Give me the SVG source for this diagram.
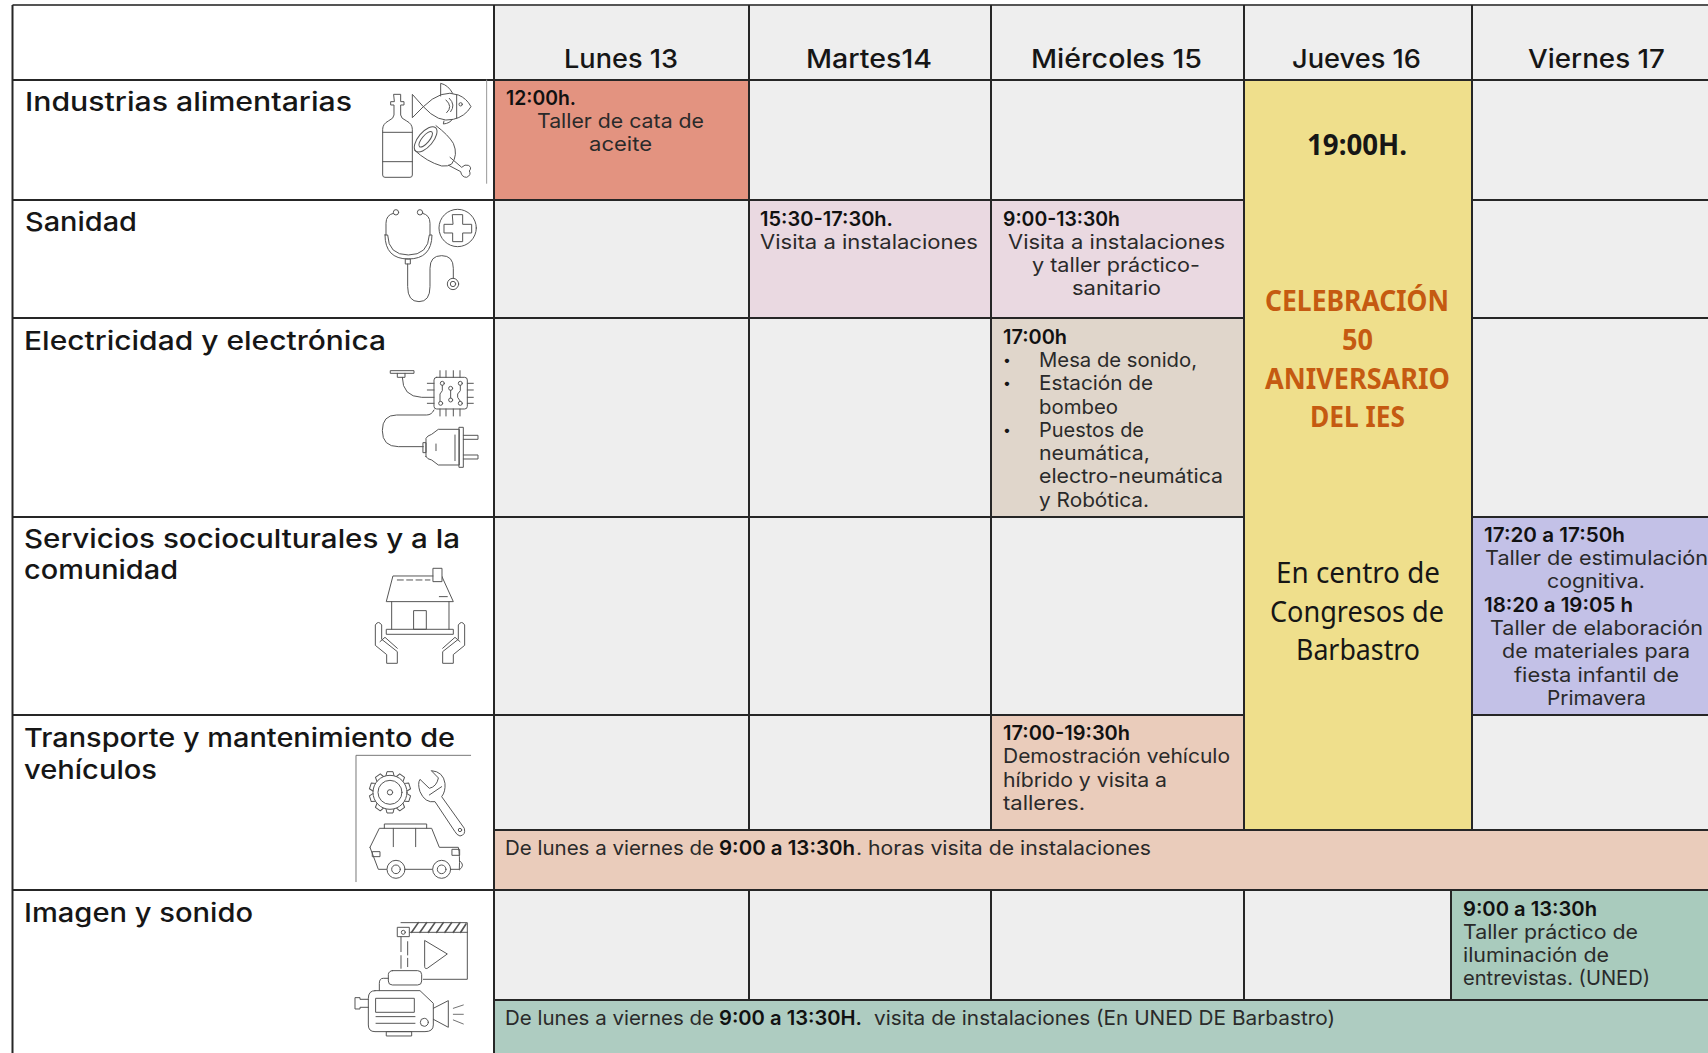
<svg xmlns="http://www.w3.org/2000/svg" xmlns:xlink="http://www.w3.org/1999/xlink" width="1708" height="1053" viewBox="0 0 1708 1053">
<style>
text{font-family:Inter,"Liberation Sans",sans-serif;fill:#161616;transform:translateY(.5px)}
.h{font-size:26px;font-weight:500}
.l{font-size:26px;font-weight:500}
.b{font-size:20px;font-weight:600;fill:#111}
.t{font-size:20px;font-weight:400;fill:#2a2a2a}
.bu{font-size:14px;font-weight:400}
.c{font-family:"Noto Sans","Open Sans",sans-serif;font-size:29px}
.cb{font-family:"Noto Sans","Open Sans",sans-serif;font-size:29px;font-weight:700}
.o{fill:#c55a11}
.ln{stroke:#262626;stroke-width:2;fill:none}
.ic{fill:none;stroke:#555;stroke-width:3;stroke-linejoin:round;stroke-linecap:round}
.wf{fill:#fff}
.g{fill:#eeeeee}
</style>
<defs>
<path id="tooth" d="M138 107L141 95H159L162 107"/>
</defs>
<rect width="1708" height="1053" fill="#fff"/>
<g id="cells">
<rect class="g" x="494" y="5" width="1214" height="1048"/>
<rect x="494" y="80" width="255" height="120" fill="#e39380"/>
<rect x="749" y="200" width="242" height="118" fill="#ead9e1"/>
<rect x="991" y="200" width="253" height="118" fill="#ead9e1"/>
<rect x="991" y="318" width="253" height="199" fill="#e0d6cb"/>
<rect x="1244" y="80" width="228" height="750" fill="#efdf8c"/>
<rect x="1472" y="517" width="236" height="198" fill="#c3c1e7"/>
<rect x="991" y="715" width="253" height="115" fill="#eaccbb"/>
<rect x="494" y="830" width="1214" height="60" fill="#eaccbb"/>
<rect x="1451" y="890" width="257" height="110" fill="#a9cbbd"/>
<rect x="494" y="1000" width="1214" height="53" fill="#aeccc1"/>
</g>
<g id="grid" class="ln">
<path d="M12.5 5H1708" stroke="#555"/>
<path d="M12.5 80H1708M12.5 200H1244M1472 200H1708M12.5 318H1244M1472 318H1708M12.5 517H1244M1472 517H1708M12.5 715H1244M1472 715H1708M494 830H1708M12.5 890H1708M494 1000H1708"/>
<path d="M12.5 5V1053M494 5V1053M749 5V830M749 890V1000M991 5V830M991 890V1000M1244 5V830M1244 890V1000M1472 5V830M1451 890V1000"/>
</g>
<g id="headers">
<text class="h" x="564" y="67" textLength="114" lengthAdjust="spacingAndGlyphs">Lunes 13</text>
<text class="h" x="806" y="67" textLength="126" lengthAdjust="spacingAndGlyphs">Martes14</text>
<text class="h" x="1031" y="67" textLength="171" lengthAdjust="spacingAndGlyphs">Miércoles 15</text>
<text class="h" x="1292" y="67" textLength="129" lengthAdjust="spacingAndGlyphs">Jueves 16</text>
<text class="h" x="1528" y="67" textLength="137" lengthAdjust="spacingAndGlyphs">Viernes 17</text>
</g>
<g id="row-alimentarias">
<text class="l" x="25" y="110" textLength="327" lengthAdjust="spacingAndGlyphs">Industrias alimentarias</text>
<g transform="translate(370 60) scale(.3333)" class="ic">
<path d="M72 103H92V125H102V135H92V165Q92 175 110 183Q127 192 127 208V345Q127 352 120 352H45Q38 352 38 345V208Q38 192 55 183Q72 175 72 165V135H62V125H72Z"/>
<path d="M38 217H127M38 305H127"/>
<path d="M160 140Q215 85 265 105Q290 115 303 140Q285 170 250 178Q205 190 160 140L127 103V172Z"/>
<path d="M212 108V70Q235 75 248 100M222 183L220 192Q240 190 247 178M260 105V175M228 120Q250 140 230 158M238 115Q258 135 242 155"/>
<circle cx="272" cy="133" r="5"/>
<ellipse cx="167" cy="238" rx="22" ry="46" transform="rotate(40 167 238)"/>
<ellipse cx="167" cy="238" rx="11" ry="29" transform="rotate(40 167 238)"/>
<path d="M198 197Q235 225 250 250Q265 285 245 312Q235 320 215 318Q170 305 133 270"/>
<path d="M240 292L275 322Q285 312 295 316Q307 322 298 333Q305 345 290 352Q275 352 272 335L236 316"/>
<path d="M350 60V370" stroke="#999"/>
</g>
</g>
<g id="row-sanidad">
<text class="l" x="25" y="230" textLength="112" lengthAdjust="spacingAndGlyphs">Sanidad</text>
<g transform="translate(370 60) scale(.3333)" class="ic">
<circle cx="78" cy="457" r="8"/><circle cx="150" cy="457" r="8"/>
<path d="M70 460Q48 465 48 490V525M158 460Q180 465 180 490V525"/>
<path d="M45 525H53Q55 585 115 585Q175 585 178 525H186Q185 597 115 597Q45 597 45 525Z"/>
<rect x="107" y="597" width="14" height="15"/>
<path d="M113 612V680Q113 725 147 725Q180 725 180 680V625Q180 587 215 587Q250 587 250 625V655"/>
<circle cx="249" cy="672" r="17"/><circle cx="249" cy="672" r="8"/>
<circle cx="263" cy="504" r="56"/>
<path d="M248 464H278V493H305V519H278V545H248V519H222V493H248Z"/>
</g>
</g>
<g id="row-electricidad">
<text class="l" x="24" y="349" textLength="362" lengthAdjust="spacingAndGlyphs">Electricidad y electrónica</text>
<g transform="translate(340 320) scale(.3333)" class="ic">
<rect x="152" y="152" width="70" height="8"/>
<path d="M172 160V172H195V160M187 172Q187 230 245 232H282"/>
<rect x="282" y="172" width="100" height="95" rx="8"/>
<path d="M300 152V172M318 152V172M340 152V172M360 152V172M300 267V288M318 267V288M340 267V288M360 267V288M262 190H282M262 210H282M262 250H282M382 190H400M382 210H400M382 232H400M382 250H400"/>
<circle cx="307" cy="190" r="6"/><circle cx="361" cy="190" r="6"/><circle cx="332" cy="205" r="6"/><circle cx="332" cy="240" r="6"/><circle cx="302" cy="250" r="6"/><circle cx="361" cy="250" r="6"/>
<path d="M307 196V212L300 222V244M361 196V212L353 222V232L361 244M332 211V234"/>
<path d="M282 270Q275 285 260 285H170Q127 285 127 332Q127 380 175 380H250"/>
<path d="M250 368H258V398H250ZM258 410V355Q262 347 275 343L295 328H358V435H295L275 420Q262 418 258 410Z"/>
<rect x="358" y="322" width="12" height="120"/>
<path d="M370 346H414V358H370M370 405H414V417H370M345 345V422M288 372V392"/>
</g>
</g>
<g id="row-servicios">
<text class="l" x="24" y="547" textLength="436" lengthAdjust="spacingAndGlyphs">Servicios socioculturales y a la</text>
<text class="l" x="24" y="578" textLength="154" lengthAdjust="spacingAndGlyphs">comunidad</text>
<g transform="translate(340 320) scale(.3333)" class="ic">
<path d="M160 768H305L340 845H140Z"/>
<rect x="280" y="745" width="26" height="40" class="wf"/>
<path d="M172 780H270" stroke-dasharray="18 10"/>
<path d="M298 830H322M155 845V928M327 845V928"/>
<rect x="222" y="872" width="37" height="56"/>
<rect x="140" y="928" width="200" height="15"/>
<path d="M106 975V915Q115 900 125 915V958L172 995V1030H140V1005Z"/>
<path d="M120 965L135 952L172 985"/>
<path d="M374 975V915Q365 900 355 915V958L308 995V1030H340V1005Z"/>
<path d="M360 965L345 952L308 985"/>
</g>
</g>
<g id="row-transporte">
<text class="l" x="24" y="746" textLength="431" lengthAdjust="spacingAndGlyphs">Transporte y mantenimiento de</text>
<text class="l" x="24" y="778" textLength="133" lengthAdjust="spacingAndGlyphs">vehículos</text>
<g transform="translate(340 740) scale(.3333)" class="ic">
<path d="M48 425V46H392" stroke="#777"/>
<circle cx="150" cy="157" r="51"/><circle cx="150" cy="157" r="36"/><circle cx="150" cy="157" r="8"/>
<use xlink:href="#tooth"/><use xlink:href="#tooth" transform="rotate(36 150 157)"/><use xlink:href="#tooth" transform="rotate(72 150 157)"/><use xlink:href="#tooth" transform="rotate(108 150 157)"/><use xlink:href="#tooth" transform="rotate(144 150 157)"/><use xlink:href="#tooth" transform="rotate(180 150 157)"/><use xlink:href="#tooth" transform="rotate(216 150 157)"/><use xlink:href="#tooth" transform="rotate(252 150 157)"/><use xlink:href="#tooth" transform="rotate(288 150 157)"/><use xlink:href="#tooth" transform="rotate(324 150 157)"/>
<path d="M275 92Q310 95 315 130Q317 155 305 170L373 265Q378 285 360 288Q350 285 345 275L285 185Q255 190 240 155Q232 130 240 118L268 145Q290 140 295 115Z"/>
<circle cx="360" cy="270" r="5"/>
<path d="M268 165L305 140"/>
<path d="M90 322L118 265H133V252H260V265H275L298 322H355Q360 345 358 388H332M90 322L115 388H140M195 388H278M160 265V320M227 265V320M133 265H260"/>
<path d="M358 362Q378 375 358 390"/>
<rect x="98" y="335" width="22" height="15"/><rect x="337" y="328" width="22" height="18"/>
<circle cx="168" cy="388" r="27" class="wf"/><circle cx="168" cy="388" r="13"/><circle cx="305" cy="388" r="27" class="wf"/><circle cx="305" cy="388" r="13"/>
</g>
</g>
<g id="row-imagen">
<text class="l" x="24" y="921" textLength="229" lengthAdjust="spacingAndGlyphs">Imagen y sonido</text>
<g transform="translate(340 740) scale(.3333)" class="ic">
<path d="M183 548H382V718H250M183 577H382"/>
<path d="M215 577L235 548M240 577L260 548M265 577L285 548M290 577L310 548M315 577L335 548M340 577L360 548M362 577L378 552" stroke-width="5"/>
<rect x="173" y="562" width="35" height="28" class="wf"/><circle cx="190" cy="577" r="6"/>
<path d="M183 590V685" stroke-dasharray="45 12"/><path d="M203 605V680" stroke-dasharray="40 10"/>
<path d="M255 602L322 642L262 685Q254 688 254 680Z"/>
<rect x="145" y="692" width="100" height="43" rx="12"/>
<path d="M145 715H130Q118 715 118 730V752"/>
<path d="M105 752H240L280 790V855Q280 875 255 875H105Q85 875 85 855V775Q85 752 105 752Z"/>
<rect x="108" y="775" width="115" height="42"/>
<path d="M108 830H225M108 850H225"/>
<circle cx="253" cy="847" r="12"/>
<rect x="140" y="875" width="75" height="13"/>
<path d="M85 778H60V773H45V807H60V802H85"/>
<path d="M280 805L325 782V862L280 838"/>
<path d="M340 805L370 795M340 823H370M340 840L370 852" stroke-width="2.5"/>
</g>
</g>
<g id="lunes-aceite">
<text class="b" x="506" y="104" textLength="70" lengthAdjust="spacingAndGlyphs">12:00h.</text>
<text class="t" x="537" y="127" textLength="167" lengthAdjust="spacingAndGlyphs">Taller de cata de</text>
<text class="t" x="589" y="150" textLength="63" lengthAdjust="spacingAndGlyphs">aceite</text>
</g>
<g id="martes-sanidad">
<text class="b" x="760" y="225" textLength="133" lengthAdjust="spacingAndGlyphs">15:30-17:30h.</text>
<text class="t" x="760" y="248" textLength="218" lengthAdjust="spacingAndGlyphs">Visita a instalaciones</text>
</g>
<g id="miercoles-sanidad">
<text class="b" x="1003" y="225" textLength="117" lengthAdjust="spacingAndGlyphs">9:00-13:30h</text>
<text class="t" x="1008" y="248" textLength="217" lengthAdjust="spacingAndGlyphs">Visita a instalaciones</text>
<text class="t" x="1032" y="271" textLength="168" lengthAdjust="spacingAndGlyphs">y taller práctico-</text>
<text class="t" x="1072" y="294" textLength="89" lengthAdjust="spacingAndGlyphs">sanitario</text>
</g>
<g id="miercoles-electricidad">
<text class="b" x="1003" y="343" textLength="64" lengthAdjust="spacingAndGlyphs">17:00h</text>
<text class="bu" x="1003" y="364">•</text>
<text class="t" x="1039" y="366" textLength="158" lengthAdjust="spacingAndGlyphs">Mesa de sonido,</text>
<text class="bu" x="1003" y="387">•</text>
<text class="t" x="1039" y="389" textLength="114" lengthAdjust="spacingAndGlyphs">Estación de</text>
<text class="t" x="1039" y="413" textLength="79" lengthAdjust="spacingAndGlyphs">bombeo</text>
<text class="bu" x="1003" y="434">•</text>
<text class="t" x="1039" y="436" textLength="105" lengthAdjust="spacingAndGlyphs">Puestos de</text>
<text class="t" x="1039" y="459" textLength="111" lengthAdjust="spacingAndGlyphs">neumática,</text>
<text class="t" x="1039" y="482" textLength="184" lengthAdjust="spacingAndGlyphs">electro-neumática</text>
<text class="t" x="1039" y="506" textLength="110" lengthAdjust="spacingAndGlyphs">y Robótica.</text>
</g>
<g id="jueves-celebracion">
<text class="cb" x="1307" y="154" textLength="100" lengthAdjust="spacingAndGlyphs">19:00H.</text>
<text class="cb o" x="1265" y="310" textLength="184" lengthAdjust="spacingAndGlyphs">CELEBRACIÓN</text>
<text class="cb o" x="1342" y="349" textLength="31" lengthAdjust="spacingAndGlyphs">50</text>
<text class="cb o" x="1265" y="388" textLength="185" lengthAdjust="spacingAndGlyphs">ANIVERSARIO</text>
<text class="cb o" x="1310" y="426" textLength="95" lengthAdjust="spacingAndGlyphs">DEL IES</text>
<text class="c" x="1276" y="582" textLength="164" lengthAdjust="spacingAndGlyphs">En centro de</text>
<text class="c" x="1270" y="621" textLength="174" lengthAdjust="spacingAndGlyphs">Congresos de</text>
<text class="c" x="1296" y="659" textLength="124" lengthAdjust="spacingAndGlyphs">Barbastro</text>
</g>
<g id="viernes-servicios">
<text class="b" x="1484" y="541" textLength="141" lengthAdjust="spacingAndGlyphs">17:20 a 17:50h</text>
<text class="t" x="1485" y="564" textLength="223" lengthAdjust="spacingAndGlyphs">Taller de estimulación</text>
<text class="t" x="1547" y="587" textLength="98" lengthAdjust="spacingAndGlyphs">cognitiva.</text>
<text class="b" x="1484" y="611" textLength="149" lengthAdjust="spacingAndGlyphs">18:20 a 19:05 h</text>
<text class="t" x="1490" y="634" textLength="213" lengthAdjust="spacingAndGlyphs">Taller de elaboración</text>
<text class="t" x="1502" y="657" textLength="188" lengthAdjust="spacingAndGlyphs">de materiales para</text>
<text class="t" x="1514" y="681" textLength="165" lengthAdjust="spacingAndGlyphs">fiesta infantil de</text>
<text class="t" x="1547" y="704" textLength="99" lengthAdjust="spacingAndGlyphs">Primavera</text>
</g>
<g id="miercoles-transporte">
<text class="b" x="1003" y="739" textLength="127" lengthAdjust="spacingAndGlyphs">17:00-19:30h</text>
<text class="t" x="1003" y="762" textLength="227" lengthAdjust="spacingAndGlyphs">Demostración vehículo</text>
<text class="t" x="1003" y="786" textLength="164" lengthAdjust="spacingAndGlyphs">híbrido y visita a</text>
<text class="t" x="1003" y="809" textLength="82" lengthAdjust="spacingAndGlyphs">talleres.</text>
</g>
<g id="transporte-semana">
<text class="t" x="505" y="854" textLength="209" lengthAdjust="spacingAndGlyphs">De lunes a viernes de</text>
<text class="b" x="719" y="854" textLength="136" lengthAdjust="spacingAndGlyphs">9:00 a 13:30h</text>
<text class="t" x="856" y="854" textLength="295" lengthAdjust="spacingAndGlyphs">. horas visita de instalaciones</text>
</g>
<g id="viernes-imagen">
<text class="b" x="1463" y="915" textLength="134" lengthAdjust="spacingAndGlyphs">9:00 a 13:30h</text>
<text class="t" x="1463" y="938" textLength="175" lengthAdjust="spacingAndGlyphs">Taller práctico de</text>
<text class="t" x="1463" y="961" textLength="146" lengthAdjust="spacingAndGlyphs">iluminación de</text>
<text class="t" x="1463" y="984" textLength="187" lengthAdjust="spacingAndGlyphs">entrevistas. (UNED)</text>
</g>
<g id="imagen-semana">
<text class="t" x="505" y="1024" textLength="209" lengthAdjust="spacingAndGlyphs">De lunes a viernes de</text>
<text class="b" x="719" y="1024" textLength="143" lengthAdjust="spacingAndGlyphs">9:00 a 13:30H.</text>
<text class="t" x="874" y="1024" textLength="461" lengthAdjust="spacingAndGlyphs">visita de instalaciones (En UNED DE Barbastro)</text>
</g>
</svg>
